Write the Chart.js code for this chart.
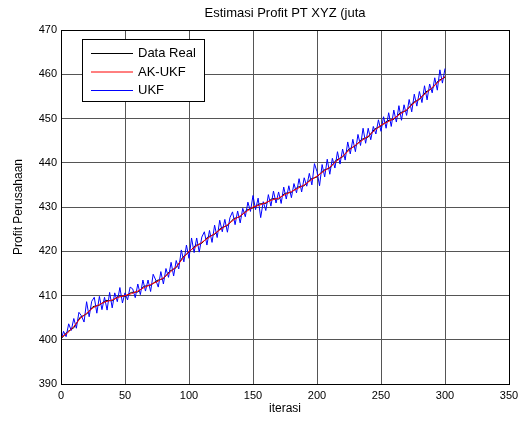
<!DOCTYPE html>
<html>
<head>
<meta charset="utf-8">
<script src="https://cdn.jsdelivr.net/npm/chart.js@4.4.1/dist/chart.umd.min.js"></script>
<style>
  html, body { margin: 0; padding: 0; background: #fff; }
  #chart { display: block; }
</style>
</head>
<body>
<canvas id="chart" width="528" height="424"></canvas>
<script>
// iterations: smooth series sampled every 5, UKF every 2
var smoothIter = [];
for (var i = 0; i <= 300; i += 5) smoothIter.push(i);
var ukfIter = [];
for (var j = 0; j <= 300; j += 2) ukfIter.push(j);

var dataReal = [
    400.2, 401.8, 402.7, 405.1, 405.8, 407.5, 407.8, 408.9, 408.8, 409.9,
    409.8, 410.7, 410.8, 412.1, 412.3, 413.4, 413.8, 415.5, 416.3, 418.6,
    419.8, 421.3, 421.8, 423.3, 423.8, 425.3, 425.8, 427.4, 427.8, 429.3,
    429.8, 430.7, 430.8, 431.9, 431.8, 433.1, 433.3, 434.5, 434.8, 436.3,
    436.8, 438.3, 438.8, 440.6, 441.3, 443.1, 443.8, 445.3, 445.8, 447.6,
    448.3, 449.5, 449.8, 451.3, 451.8, 453.6, 454.3, 456.0, 456.8, 458.6,
    459.3
];

var akUkf = [
    400.5, 401.5, 403.0, 404.8, 406.0, 407.2, 408.0, 408.6, 409.0, 409.6,
    410.0, 410.4, 411.0, 411.8, 412.5, 413.1, 414.0, 415.2, 416.5, 418.3,
    420.0, 421.0, 422.0, 423.0, 424.0, 425.0, 426.0, 427.1, 428.0, 429.0,
    430.0, 430.4, 431.0, 431.6, 432.0, 432.8, 433.5, 434.2, 435.0, 436.0,
    437.0, 438.0, 439.0, 440.3, 441.5, 442.8, 444.0, 445.0, 446.0, 447.3,
    448.5, 449.2, 450.0, 451.0, 452.0, 453.3, 454.5, 455.7, 457.0, 458.3,
    459.5
];

var ukf = [
    399.9, 401.9, 400.7, 403.6, 402.1, 404.8, 402.6, 406.2, 405.4, 404.0,
    408.6, 405.2, 408.7, 409.6, 406.0, 409.8, 406.8, 409.6, 406.7, 410.7,
    407.2, 410.6, 408.6, 411.8, 408.3, 410.6, 409.0, 411.9, 411.5, 409.5,
    412.6, 410.2, 413.5, 411.0, 413.5, 410.9, 414.8, 413.5, 411.9, 415.4,
    412.6, 416.1, 414.1, 417.5, 414.4, 417.9, 416.0, 420.3, 417.6, 421.4,
    418.4, 423.0, 419.7, 423.0, 419.8, 423.2, 424.4, 421.4, 424.7, 422.0,
    425.9, 423.1, 427.0, 424.4, 427.2, 424.3, 427.6, 428.9, 426.0, 429.1,
    426.4, 429.7, 427.8, 431.1, 429.0, 432.6, 429.4, 432.0, 427.6, 431.2,
    429.2, 432.8, 430.2, 433.6, 430.9, 433.4, 430.8, 434.5, 431.8, 434.8,
    432.1, 435.3, 433.2, 436.4, 433.4, 436.6, 434.7, 437.6, 435.0, 439.8,
    438.0, 434.8, 439.6, 436.8, 440.8, 437.4, 441.0, 438.8, 442.5, 439.7,
    443.1, 440.6, 444.7, 442.0, 445.3, 442.5, 446.4, 443.9, 447.8, 444.4,
    447.8, 445.2, 448.2, 446.5, 449.7, 447.1, 450.4, 447.8, 451.3, 448.2,
    451.9, 449.2, 452.9, 449.6, 453.1, 450.7, 454.3, 451.5, 455.5, 452.8,
    456.1, 453.6, 457.4, 454.2, 457.8, 455.8, 459.2, 456.4, 461.0, 458.0,
    461.3
];

var xTicks = [0, 50, 100, 150, 200, 250, 300, 350];
var yTicks = [390, 400, 410, 420, 430, 440, 450, 460, 470];
var chartTitle = 'Estimasi Profit PT XYZ (juta';

function toPoints(xs, ys) {
    var pts = [];
    for (var k = 0; k < ys.length; k++) {
        pts.push({ x: xs[k], y: ys[k] });
    }
    return pts;
}

var font = "'Liberation Sans', Arial, sans-serif";
Chart.defaults.font.family = font;
Chart.defaults.font.size = 11;
Chart.defaults.color = '#000';

// title over the axes, plot box and legend inside the axes (MATLAB look)
var boxPlugin = {
    id: 'box',
    afterDraw: function (chart) {
        var ctx = chart.ctx;
        var a = chart.chartArea;
        ctx.save();
        ctx.strokeStyle = '#000';
        ctx.lineWidth = 1;
        ctx.strokeRect(Math.round(a.left) + 0.5, Math.round(a.top) + 0.5,
            Math.round(a.right - a.left), Math.round(a.bottom - a.top));

        ctx.fillStyle = '#000';
        ctx.font = '13px ' + font;
        ctx.textAlign = 'center';
        ctx.textBaseline = 'middle';
        ctx.fillText(chartTitle, (a.left + a.right) / 2, 13);

        // legend
        var lx = 82.5, ly = 39.5, lw = 122, lh = 62;
        ctx.fillStyle = '#fff';
        ctx.fillRect(lx, ly, lw, lh);
        ctx.strokeRect(lx, ly, lw, lh);
        ctx.font = '13px ' + font;
        ctx.textAlign = 'left';
        [0, 1, 2].forEach(function (idx, row) {
            var ds = chart.data.datasets[idx];
            var y = 53.5 + row * 18.5;
            ctx.strokeStyle = ds.borderColor;
            ctx.beginPath();
            ctx.moveTo(91, y);
            ctx.lineTo(133, y);
            ctx.stroke();
            ctx.fillStyle = '#000';
            ctx.fillText(ds.label, 138, y);
        });
        ctx.restore();
    }
};

var chart = new Chart(document.getElementById('chart').getContext('2d'), {
    type: 'line',
    data: {
        datasets: [
            {
                label: 'Data Real',
                data: toPoints(smoothIter, dataReal),
                borderColor: '#000000',
                borderWidth: 1,
                pointRadius: 0,
                order: 3
            },
            {
                label: 'AK-UKF',
                data: toPoints(smoothIter, akUkf),
                borderColor: '#ff0000',
                borderWidth: 1,
                pointRadius: 0,
                order: 1
            },
            {
                label: 'UKF',
                data: toPoints(ukfIter, ukf),
                borderColor: '#0000ff',
                borderWidth: 1,
                pointRadius: 0,
                order: 2
            }
        ]
    },
    options: {
        responsive: false,
        animation: false,
        layout: { padding: { left: 0, right: 19, top: 30, bottom: 0 } },
        plugins: {
            legend: { display: false },
            tooltip: { enabled: false },
            title: { display: false }
        },
        scales: {
            x: {
                type: 'linear',
                min: 0,
                max: 350,
                afterBuildTicks: function (s) { s.ticks = xTicks.map(function (v) { return { value: v }; }); },
                afterFit: function (s) { s.height = 40; },
                ticks: { padding: 5, maxRotation: 0 },
                grid: { color: '#555', drawTicks: false },
                border: { display: false },
                title: { display: true, text: 'iterasi', font: { size: 12 }, padding: { top: 0, bottom: 8 } }
            },
            y: {
                min: 390,
                max: 470,
                afterBuildTicks: function (s) { s.ticks = yTicks.map(function (v) { return { value: v }; }); },
                afterFit: function (s) { s.width = 61; },
                ticks: { padding: 4 },
                grid: { color: '#555', drawTicks: false },
                border: { display: false },
                title: { display: true, text: 'Profit Perusahaan', font: { size: 12 }, padding: { top: 11, bottom: 0 } }
            }
        }
    },
    plugins: [boxPlugin]
});
</script>
</body>
</html>
